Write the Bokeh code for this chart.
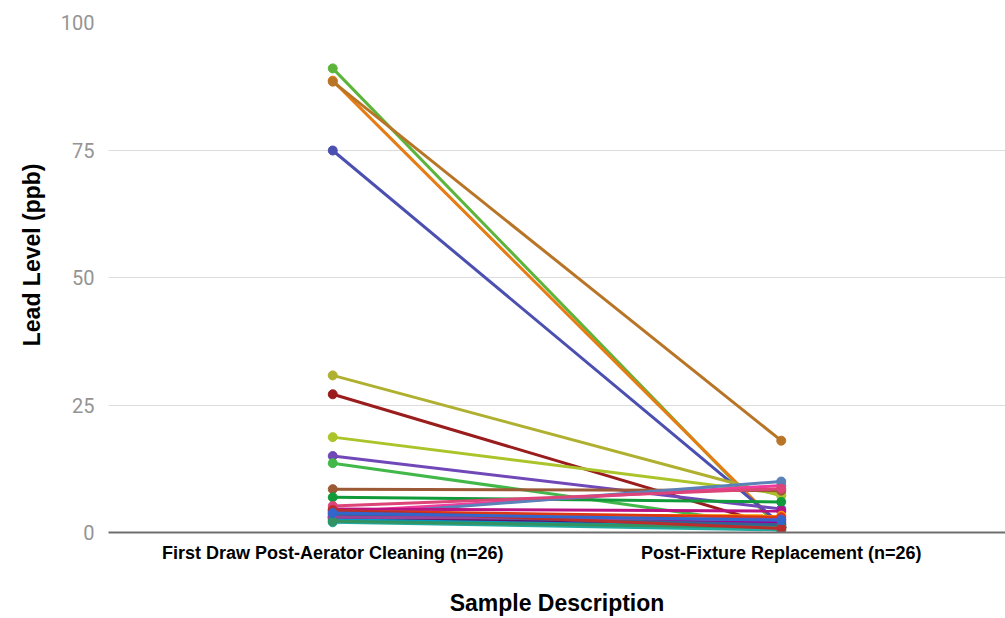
from bokeh.plotting import figure
from bokeh.models import FactorRange, Range1d, FixedTicker, Title
from bokeh.embed import file_html
from bokeh.resources import INLINE

categories = ["First Draw Post-Aerator Cleaning (n=26)", "Post-Fixture Replacement (n=26)"]

# 26 sample sites: lead level (ppb) after aerator cleaning, and after fixture replacement
first_draw = [91.0, 88.6, 88.4, 74.9, 30.8, 27.1, 18.7, 15.0, 13.6, 8.5, 6.9,
              4.0, 3.2, 4.6, 3.4, 2.8, 3.0, 2.0, 2.5, 3.6, 4.2, 5.2, 3.0, 2.2, 4.4, 3.8]
post_fixture = [0.5, 1.0, 18.0, 1.6, 7.2, 1.0, 7.6, 4.6, 1.2, 8.2, 6.0,
                9.2, 10.0, 4.2, 3.3, 2.0, 1.0, 0.5, 1.0, 1.5, 3.0, 8.6, 2.6, 1.0, 0.8, 2.4]
colors = ["#5cb53a", "#e67c13", "#b87526", "#4b4fb0", "#b0b030", "#9a1c1c", "#aac42a",
          "#7048b8", "#42b84a", "#9c5935", "#109a3a",
          "#f03c9c", "#5a82b8", "#b91383", "#ff9900", "#990099", "#651067", "#22aaa0",
          "#0099c6", "#316395", "#dc3912", "#dd4477", "#994499", "#329262", "#b82e2e", "#3366cc"]
y_title = "Lead Level (ppb)"
x_title = "Sample Description"

p = figure(x_range=FactorRange(factors=categories, range_padding=0),
           y_range=Range1d(0, 100),
           width=1005, height=618, output_backend="svg", toolbar_location=None,
           min_border_left=108, min_border_right=0, min_border_top=22, min_border_bottom=86)
p.outline_line_color = None
p.background_fill_color = "white"

for i in range(len(first_draw)):
    ys = [first_draw[i], post_fixture[i]]
    p.line(x=categories, y=ys, line_color=colors[i], line_width=3)
    p.scatter(x=categories, y=ys, fill_color=colors[i], line_color=colors[i], size=9)

p.xgrid.grid_line_color = None
p.ygrid.grid_line_color = "#dcdcdc"
p.ygrid.grid_line_width = 1

p.yaxis.ticker = FixedTicker(ticks=[0, 25, 50, 75, 100])
p.yaxis.axis_line_color = None
p.yaxis.major_tick_line_color = None
p.yaxis.minor_tick_line_color = None
p.yaxis.major_label_text_color = "#949494"
p.yaxis.major_label_text_font = "Roboto"
p.yaxis.major_label_text_font_size = "20px"
p.yaxis.major_label_standoff = 8

p.xaxis.axis_line_color = "#6e6e6e"
p.xaxis.axis_line_width = 2
p.xaxis.major_tick_line_color = None
p.xaxis.minor_tick_line_color = None
p.xaxis.major_label_text_font = "Liberation Sans"
p.xaxis.major_label_text_font_style = "bold"
p.xaxis.major_label_text_font_size = "18px"
p.xaxis.major_label_text_color = "black"
p.xaxis.major_label_standoff = 4
p.xaxis.axis_label = x_title
p.xaxis.axis_label_text_font = "Liberation Sans"
p.xaxis.axis_label_text_font_style = "bold"
p.xaxis.axis_label_text_font_size = "23px"
p.xaxis.axis_label_text_color = "black"
p.xaxis.axis_label_standoff = 24

p.add_layout(Title(text=y_title, align="right", offset=141,
                   text_font="Liberation Sans", text_font_style="bold",
                   text_font_size="23px", text_color="black", standoff=25), "left")

open("out.html", "w").write(file_html(p, INLINE))
